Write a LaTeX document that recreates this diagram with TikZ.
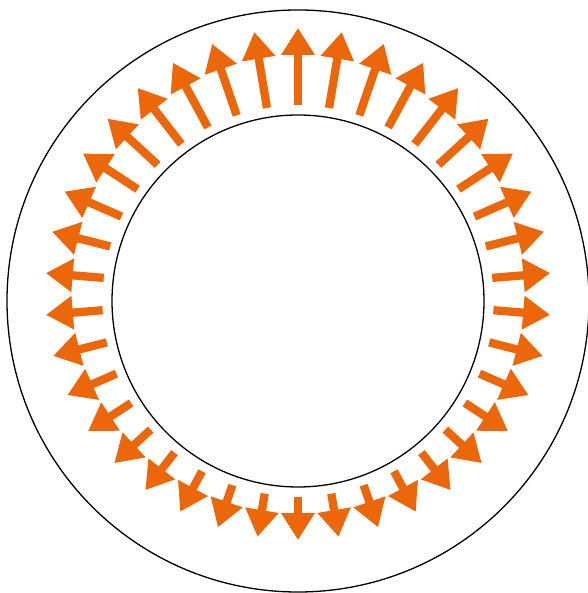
\documentclass[tikz,border=0pt]{standalone}
\usetikzlibrary{arrows.meta}
\definecolor{fieldorange}{RGB}{236,103,9}
\tikzset{
  shell/.style={black, line width=1.3pt},
  fieldarrow/.style={fieldorange, line width=8.3pt, -{Triangle[width=32pt,length=27pt]}}
}
\begin{document}
\begin{tikzpicture}[x=1pt,y=1pt]
\useasboundingbox (-298,-292) rectangle (289,301);
\draw[shell] (0,0) circle (291);
\draw[shell] (0,0) circle (186);
\coordinate (src) at (0,7);
% 38 field arrows, fanning out from the source point
\foreach \k in {0,...,37}{
  \pgfmathsetmacro{\ang}{90+\k*360/38}
  \pgfmathsetmacro{\s}{sin(\ang)}
  \pgfmathsetmacro{\rin}{195.5-7*\s}
  \pgfmathsetmacro{\rout}{253+10*\s*abs(\s)+3*\s*\s}
  \draw[fieldarrow] ([shift={(\ang:\rin)}]src) -- ([shift={(\ang:\rout)}]src);
}
\end{tikzpicture}
\end{document}
